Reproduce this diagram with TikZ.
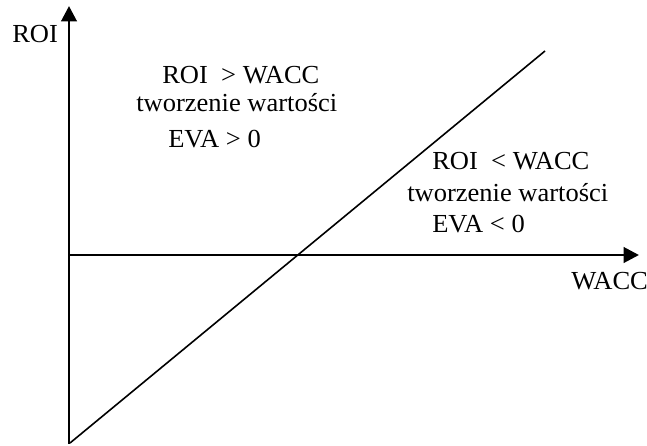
\documentclass[tikz,border=0pt]{standalone}
\usepackage{fontspec}
\setmainfont{Liberation Serif}
\usetikzlibrary{arrows.meta}
\newcommand{\tx}[1]{\scalebox{1.02}[1]{#1}}
\begin{document}
\begin{tikzpicture}[x=0.75pt,y=-0.75pt,
  axis/.style={line width=2.2pt,-{Triangle[length=11.5pt,width=11.5pt]}},
  diag/.style={line width=1.2pt},
  lbl/.style={anchor=base west,inner sep=0pt,font=\fontsize{19.5}{23}\selectfont}]
\useasboundingbox (0,0) rectangle (647,446);
\coordinate (ybot) at (69,444);
\coordinate (ytop) at (69,6);
\coordinate (xl) at (69,255);
\coordinate (xr) at (639,255);
\coordinate (d1) at (70,443);
\coordinate (d2) at (545,51);
\draw[axis] (ybot) -- (ytop);
\draw[axis] (xl) -- (xr);
\draw[diag] (d1) -- (d2);
\node[lbl] (roi) at (12,42) {\tx{ROI}};
\node[lbl] (a1) at (162,83) {\tx{ROI\ \ > WACC}};
\node[lbl] (a2) at (136,111) {\tx{tworzenie wartości}};
\node[lbl] (a3) at (168,147) {\tx{EVA > 0}};
\node[lbl] (b1) at (432,169) {\tx{ROI\ \ < WACC}};
\node[lbl] (b2) at (407,201) {\tx{tworzenie wartości}};
\node[lbl] (b3) at (432,232) {\tx{EVA < 0}};
\node[lbl] (wacc) at (571,289) {\tx{WACC}};
\end{tikzpicture}
\end{document}
